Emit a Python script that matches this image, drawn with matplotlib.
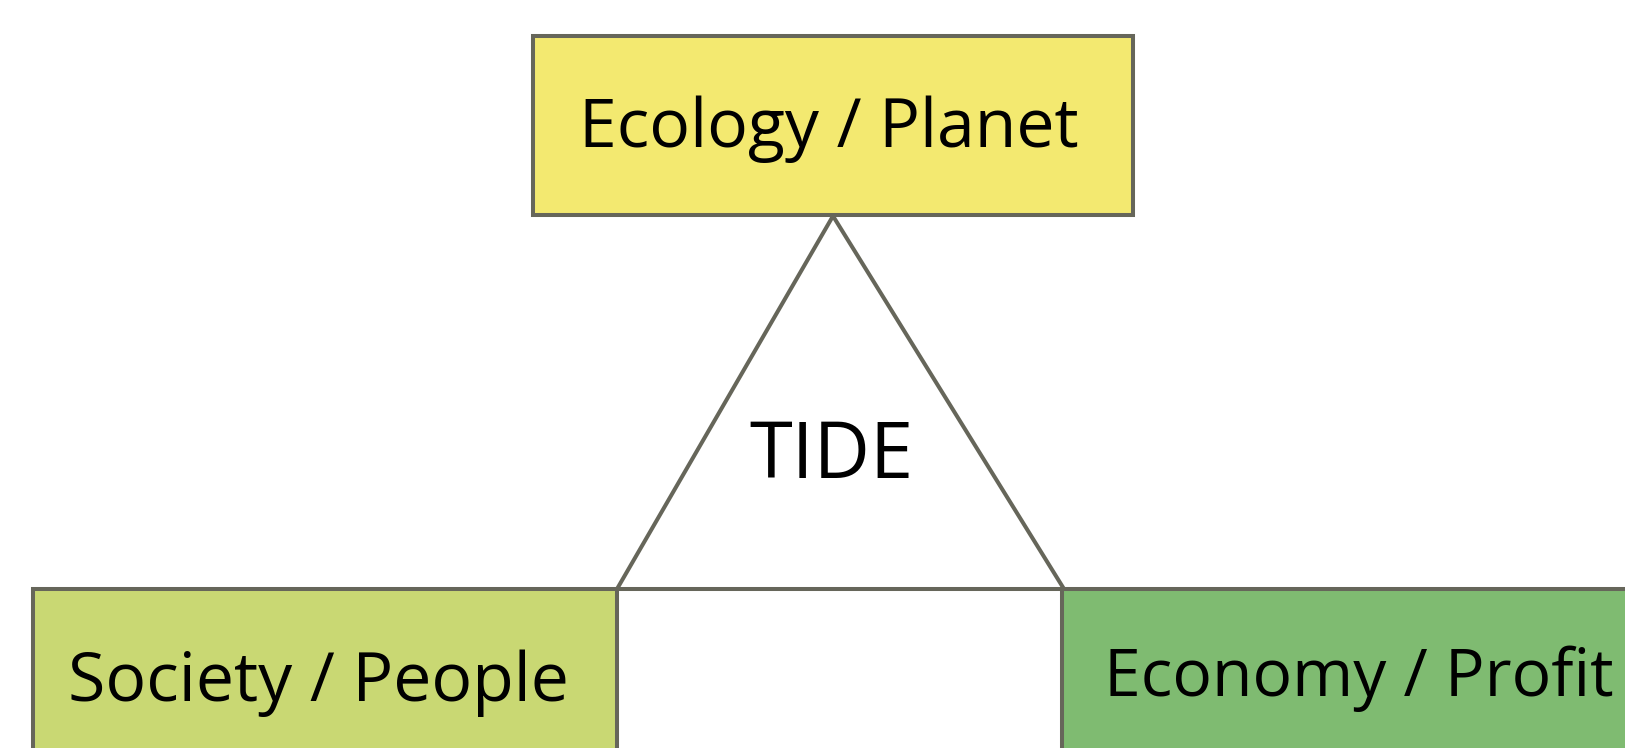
import numpy as np
import matplotlib.pyplot as plt
from matplotlib.patches import Rectangle, Polygon

labels = ['Ecology / Planet', 'Society / People', 'Economy / Profit']
colors = ['#F3E970', '#C9D873', '#7FBB71']
center_label = 'TIDE'

edge = '#66665A'
fontname = 'Open Sans'

fig = plt.figure(figsize=(16.25, 7.48), dpi=100)
ax = fig.add_axes([0, 0, 1, 1])
ax.set_xlim(0, 1625)
ax.set_ylim(748, 0)
ax.axis('off')

# boxes: (x, y, w, h)
boxes = [(533, 36, 600, 179), (33, 589, 584, 200), (1062, 589, 620, 200)]
text_pos = [(829, 129), (318, 683), (1104, 679)]
aligns = ['center', 'center', 'left']
sizes = [49, 49, 47.5]

for (x, y, w, h), c in zip(boxes, colors):
    ax.add_patch(Rectangle((x, y), w, h, facecolor=c, edgecolor=edge, lw=2.9, zorder=2))

tri = Polygon([(833, 216), (617, 589), (1064, 589)], closed=True,
              facecolor='white', edgecolor=edge, lw=2.9, zorder=1, joinstyle='miter')
ax.add_patch(tri)

for lab, (tx, ty), ha, fs in zip(labels, text_pos, aligns, sizes):
    ax.text(tx, ty, lab, ha=ha, va='center', fontsize=fs, fontname=fontname, color='black', zorder=3)

ax.text(831, 457, center_label, ha='center', va='center', fontsize=56, fontname=fontname, color='black')

plt.savefig('out.png', dpi=100)
